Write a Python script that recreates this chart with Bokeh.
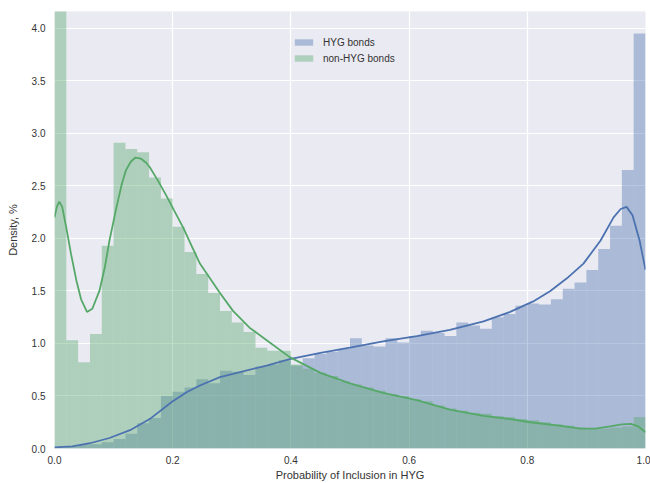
import numpy as np
from bokeh.plotting import figure
from bokeh.models import Range1d, FixedTicker, PrintfTickFormatter, Legend, LegendItem
from bokeh.embed import file_html
from bokeh.resources import INLINE

# ---- data ----
n_bins = 50
hyg_hist = [0.01, 0.02, 0.03, 0.04, 0.06, 0.09, 0.14, 0.24, 0.29, 0.50,
            0.54, 0.58, 0.66, 0.62, 0.74, 0.73, 0.70, 0.78, 0.80, 0.84,
            0.79, 0.86, 0.90, 0.92, 0.95, 1.05, 0.98, 0.97, 1.05, 1.01,
            1.07, 1.12, 1.10, 1.07, 1.20, 1.17, 1.14, 1.25, 1.28, 1.36,
            1.38, 1.37, 1.42, 1.52, 1.58, 1.70, 1.90, 2.12, 2.65, 3.95]
non_hist = [4.60, 1.03, 0.82, 1.09, 1.93, 2.91, 2.85, 2.82, 2.58, 2.38,
            2.11, 1.87, 1.66, 1.48, 1.31, 1.20, 1.11, 0.96, 0.93, 0.93,
            0.80, 0.76, 0.72, 0.69, 0.64, 0.61, 0.58, 0.55, 0.52, 0.50,
            0.47, 0.45, 0.41, 0.38, 0.36, 0.34, 0.33, 0.31, 0.30, 0.28,
            0.27, 0.25, 0.23, 0.22, 0.20, 0.19, 0.19, 0.20, 0.21, 0.30]

hyg_kde_x = [0.0, 0.03, 0.06, 0.093, 0.13, 0.161, 0.2, 0.225, 0.246, 0.28, 0.302,
             0.359, 0.398, 0.45, 0.5, 0.556, 0.613, 0.669, 0.726, 0.771, 0.81,
             0.839, 0.867, 0.895, 0.924, 0.946, 0.958, 0.968, 0.978, 0.99, 1.0]
hyg_kde_y = [0.01, 0.02, 0.05, 0.10, 0.18, 0.28, 0.45, 0.54, 0.60, 0.68, 0.71,
             0.79, 0.85, 0.91, 0.96, 1.02, 1.07, 1.13, 1.21, 1.30, 1.40,
             1.50, 1.62, 1.76, 1.98, 2.20, 2.28, 2.30, 2.22, 1.98, 1.70]

non_kde_x = [0.0, 0.004, 0.008, 0.013, 0.02, 0.028, 0.037, 0.045, 0.055, 0.064,
             0.076, 0.085, 0.093, 0.105, 0.114, 0.121, 0.129, 0.137, 0.146, 0.155,
             0.161, 0.175, 0.189, 0.203, 0.218, 0.232, 0.246, 0.263, 0.28, 0.302,
             0.33, 0.359, 0.398, 0.45, 0.5, 0.556, 0.613, 0.669, 0.726, 0.771,
             0.805, 0.85, 0.89, 0.915, 0.94, 0.96, 0.975, 0.988, 1.0]
non_kde_y = [2.20, 2.30, 2.35, 2.30, 2.10, 1.85, 1.60, 1.42, 1.30, 1.33,
             1.50, 1.72, 1.98, 2.30, 2.52, 2.65, 2.73, 2.77, 2.76, 2.72,
             2.68, 2.55, 2.41, 2.26, 2.10, 1.93, 1.76, 1.62, 1.48, 1.31,
             1.15, 1.03, 0.87, 0.72, 0.62, 0.53, 0.46, 0.37, 0.31, 0.28,
             0.25, 0.22, 0.19, 0.19, 0.21, 0.23, 0.235, 0.21, 0.155]

x_ticks = [0.0, 0.2, 0.4, 0.6, 0.8, 1.0]
y_ticks = [0.0, 0.5, 1.0, 1.5, 2.0, 2.5, 3.0, 3.5, 4.0]

BLUE = "#4C72B0"
GREEN = "#55A868"
FONT = "Liberation Sans"

edges = np.linspace(0.0, 1.0, n_bins + 1)

p = figure(frame_width=591, frame_height=437, output_backend="svg",
           toolbar_location=None, x_range=Range1d(0, 1.0), y_range=Range1d(0, 4.16),
           min_border_left=54, min_border_right=5, min_border_top=11, min_border_bottom=35,
           background_fill_color="#EAEAF2", border_fill_color="white")
p.outline_line_color = None

for ax in (p.xaxis[0], p.yaxis[0]):
    ax.axis_line_color = None
    ax.major_tick_line_color = None
    ax.minor_tick_line_color = None
    ax.major_tick_out = 0
    ax.major_tick_in = 0
    ax.minor_tick_out = 0
    ax.minor_tick_in = 0
    ax.major_label_text_font = FONT
    ax.major_label_text_font_size = "10px"
    ax.major_label_text_color = "#333333"
    ax.axis_label_text_font = FONT
    ax.axis_label_text_font_size = "11px"
    ax.axis_label_text_font_style = "normal"
    ax.axis_label_text_color = "#333333"

p.xaxis.ticker = FixedTicker(ticks=x_ticks)
p.yaxis.ticker = FixedTicker(ticks=y_ticks)
p.xaxis.formatter = PrintfTickFormatter(format="%.1f")
p.yaxis.formatter = PrintfTickFormatter(format="%.1f")
p.xaxis.axis_label = "Probability of Inclusion in HYG"
p.yaxis.axis_label = "Density, %"
p.xaxis.major_label_standoff = 7
p.yaxis.major_label_standoff = 9
p.xaxis.axis_label_standoff = 2
p.yaxis.axis_label_standoff = 10

p.xgrid.grid_line_color = "white"
p.ygrid.grid_line_color = "white"
p.xgrid.grid_line_width = 1.2
p.ygrid.grid_line_width = 1.2

r_hyg = p.quad(left=edges[:-1], right=edges[1:], bottom=0, top=hyg_hist,
               fill_color=BLUE, fill_alpha=0.4, line_color=None)
r_non = p.quad(left=edges[:-1], right=edges[1:], bottom=0, top=non_hist,
               fill_color=GREEN, fill_alpha=0.4, line_color=None)
p.line(hyg_kde_x, hyg_kde_y, line_color=BLUE, line_width=1.8)
p.line(non_kde_x, non_kde_y, line_color=GREEN, line_width=1.8)

legend = Legend(items=[LegendItem(label="HYG bonds", renderers=[r_hyg]),
                       LegendItem(label="non-HYG bonds", renderers=[r_non])],
                location=(238, 384))
legend.background_fill_alpha = 0
legend.border_line_color = None
legend.padding = 0
legend.margin = 0
legend.spacing = 4
legend.glyph_width = 23
legend.glyph_height = 8
legend.label_height = 12
legend.label_standoff = 8
legend.label_text_font = FONT
legend.label_text_font_size = "10px"
legend.label_text_color = "#333333"
p.add_layout(legend)

open("out.html", "w").write(file_html(p, INLINE))
